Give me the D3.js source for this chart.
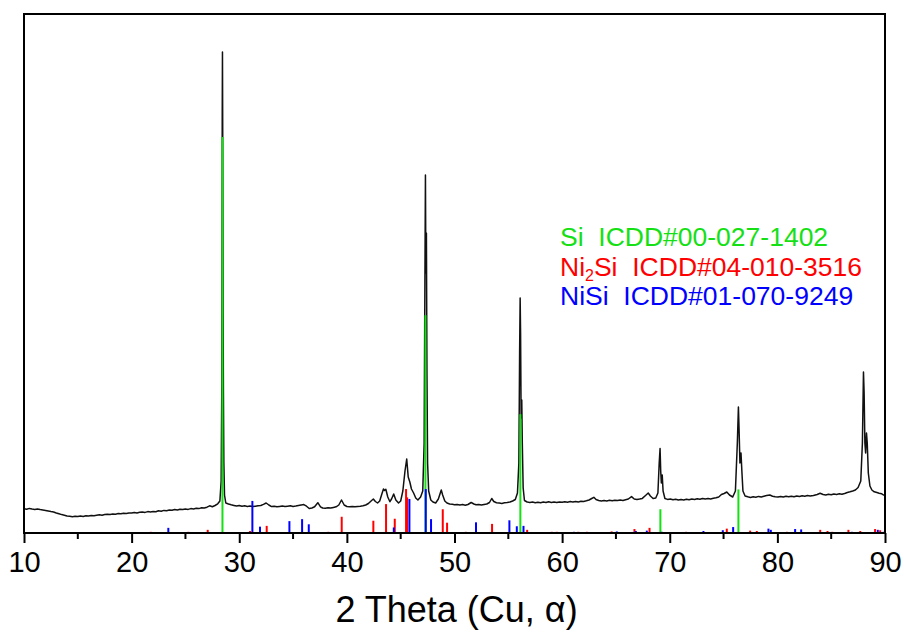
<!DOCTYPE html>
<html>
<head>
<meta charset="utf-8">
<script src="https://cdn.jsdelivr.net/npm/d3@7"></script>
<style>
  body { margin: 0; background: #fff; }
  svg text { font-family: Arial, "Liberation Sans", sans-serif; }
</style>
</head>
<body>
<svg id="chart" width="904" height="635"></svg>
<script>
// measured scan, [2theta, counts]
var scan = [
  [10.00,243],[10.25,238],[10.50,246],[10.75,240],[11.00,236],[11.25,241],[11.50,234],[11.75,230],
  [12.00,226],[12.25,221],[12.50,215],[12.75,210],[13.00,200],[13.25,192],[13.50,184],[13.75,178],
  [14.00,171],[14.25,168],[14.50,163],[14.75,167],[15.00,164],[15.25,170],[15.50,166],[15.75,172],
  [16.00,170],[16.25,176],[16.50,173],[16.75,178],[17.00,182],[17.25,177],[17.50,184],[17.75,188],
  [18.00,185],[18.25,191],[18.50,188],[18.75,194],[19.00,192],[19.25,198],[19.50,195],[19.75,201],
  [20.00,199],[20.25,205],[20.50,200],[20.75,207],[21.00,210],[21.25,206],[21.50,214],[21.75,211],
  [22.00,216],[22.25,213],[22.50,222],[22.75,218],[23.00,226],[23.25,223],[23.50,230],[23.75,227],
  [24.00,234],[24.25,231],[24.50,238],[24.75,235],[25.00,240],[25.25,236],[25.50,244],[25.75,241],
  [26.00,248],[26.25,244],[26.50,252],[26.75,250],[27.00,258],[27.25,272],[27.50,262],[27.75,275],
  [28.00,292],[28.20,320],[28.32,520],[28.38,1500],[28.42,4200],[28.44,4810],[28.47,3800],[28.50,2200],
  [28.53,1400],[28.57,700],[28.63,380],[28.75,300],[29.00,290],[29.25,282],[29.50,276],[29.75,270],
  [30.00,275],[30.25,268],[30.50,272],[30.75,266],[31.00,270],[31.25,264],[31.50,268],[31.75,272],
  [32.00,275],[32.25,286],[32.50,300],[32.75,280],[33.00,264],[33.25,268],[33.50,262],[33.75,266],
  [34.00,270],[34.25,264],[34.50,268],[34.75,272],[35.00,266],[35.25,270],[35.50,275],[35.75,280],
  [36.00,284],[36.25,268],[36.50,245],[36.75,250],[37.00,262],[37.30,303],[37.55,262],[37.75,250],
  [38.00,248],[38.25,252],[38.50,250],[38.75,256],[39.00,262],[39.25,280],[39.50,330],[39.75,280],
  [40.00,265],[40.25,262],[40.50,266],[40.75,262],[41.00,266],[41.25,268],[41.50,272],[41.75,280],
  [42.00,295],[42.25,320],[42.46,340],[42.65,315],[42.85,300],[43.05,320],[43.25,390],[43.40,440],
  [43.50,425],[43.62,437],[43.80,360],[44.00,313],[44.15,340],[44.35,390],[44.55,330],[44.80,300],
  [45.00,320],[45.20,420],[45.40,620],[45.56,740],[45.70,560],[45.85,510],[46.00,440],[46.20,400],
  [46.40,350],[46.60,330],[46.85,360],[47.05,420],[47.18,900],[47.25,2500],[47.30,3580],[47.34,2600],
  [47.39,3000],[47.44,1600],[47.50,700],[47.60,420],[47.80,330],[48.00,310],[48.25,300],[48.50,340],
  [48.65,390],[48.77,430],[48.90,380],[49.10,320],[49.30,300],[49.55,290],[49.80,287],[50.00,282],
  [50.25,286],[50.50,280],[50.75,284],[51.00,278],[51.25,285],[51.55,305],[51.80,290],[52.00,282],
  [52.25,285],[52.50,280],[52.75,286],[53.00,290],[53.25,305],[53.46,345],[53.65,315],[53.90,303],
  [54.15,300],[54.40,296],[54.65,302],[54.90,305],[55.15,310],[55.40,320],[55.65,335],[55.85,400],
  [55.98,700],[56.05,1800],[56.10,2350],[56.14,2000],[56.19,1150],[56.25,1330],[56.30,900],[56.38,450],
  [56.50,325],[56.75,310],[57.00,305],[57.25,309],[57.50,302],[57.75,307],[58.00,303],[58.25,309],
  [58.50,305],[58.75,312],[59.00,306],[59.25,310],[59.50,304],[59.75,311],[60.00,307],[60.25,313],
  [60.50,308],[60.75,314],[61.00,310],[61.25,316],[61.50,311],[61.75,317],[62.00,315],[62.25,322],
  [62.50,330],[62.75,345],[62.95,357],[63.15,335],[63.40,325],[63.65,320],[63.90,326],[64.15,321],
  [64.40,327],[64.65,322],[64.90,328],[65.15,324],[65.40,330],[65.65,326],[65.90,333],[66.15,340],
  [66.45,364],[66.70,340],[66.95,335],[67.20,340],[67.45,346],[67.75,375],[68.00,400],[68.20,370],
  [68.45,345],[68.70,350],[68.90,400],[69.02,700],[69.10,845],[69.16,620],[69.22,500],[69.30,580],
  [69.38,420],[69.55,345],[69.80,336],[70.05,340],[70.30,333],[70.55,338],[70.80,330],[71.05,336],
  [71.30,331],[71.55,338],[71.80,333],[72.05,340],[72.30,335],[72.55,342],[72.80,337],[73.05,344],
  [73.30,339],[73.55,345],[73.80,340],[74.05,347],[74.30,352],[74.55,360],[74.80,385],[75.05,395],
  [75.30,410],[75.55,380],[75.85,360],[76.10,420],[76.28,900],[76.38,1260],[76.45,1000],[76.52,700],
  [76.62,800],[76.70,620],[76.80,420],[77.00,370],[77.25,362],[77.50,356],[77.75,362],[78.00,358],
  [78.25,366],[78.50,360],[78.75,368],[79.00,375],[79.30,380],[79.55,368],[79.80,362],[80.05,360],
  [80.30,366],[80.55,360],[80.80,367],[81.05,362],[81.30,368],[81.55,363],[81.80,370],[82.05,365],
  [82.30,372],[82.55,367],[82.80,374],[83.05,369],[83.35,375],[83.70,385],[83.97,397],[84.25,385],
  [84.50,380],[84.75,387],[85.00,383],[85.25,390],[85.50,386],[85.75,392],[86.00,388],[86.25,395],
  [86.50,405],[86.75,412],[87.00,420],[87.25,430],[87.50,455],[87.75,520],[87.90,900],[88.00,1610],
  [88.06,1400],[88.13,900],[88.20,800],[88.28,1000],[88.35,900],[88.45,600],[88.60,470],[88.78,430],
  [89.00,412],[89.25,405],[89.45,398],[89.70,392],[89.85,380],[90.00,380]
];

// reference cards, [2theta, relative intensity %]
var siPeaks = [[28.44,100],[47.30,55],[56.12,30],[69.13,6],[76.38,11]];

var ni2siPeaks = [
  [21.78,0.3],[25.27,0.3],[27.07,0.8],[31.00,0.5],[32.55,1.8],[38.28,0.3],[39.52,4.1],[42.46,3.1],
  [43.64,7.3],[44.45,3.6],[45.50,11.1],[45.60,9.0],[48.91,6.0],[49.31,2.6],[51.05,0.3],[53.49,2.3],
  [56.75,0.8],[59.04,0.3],[59.50,0.3],[61.50,0.3],[62.30,0.3],[64.60,0.4],[66.72,1.0],[68.12,1.3],
  [71.52,0.3],[75.30,1.1],[77.47,0.6],[78.09,0.5],[80.88,0.3],[83.98,0.8],[84.66,0.5],[85.10,0.3],
  [86.60,0.8],[87.70,0.5],[89.08,1.0],[89.55,0.7]
];

var nisiPeaks = [
  [23.41,1.3],[31.22,8.1],[31.93,1.6],[34.66,3.0],[35.84,3.5],[36.46,2.2],[44.36,1.4],[45.81,8.6],
  [47.33,11.1],[47.82,3.5],[52.00,2.7],[55.10,3.2],[55.79,1.7],[56.41,1.8],[61.10,0.3],[65.08,0.4],
  [66.85,0.5],[67.87,0.6],[69.26,0.3],[73.13,0.5],[74.93,0.7],[75.89,1.5],[79.17,1.1],[79.39,0.8],
  [81.65,1.0],[82.21,0.9],[86.92,0.3],[89.33,0.8],[89.86,0.3]
];

var xTicks = [10, 20, 30, 40, 50, 60, 70, 80, 90];
var xMinorTicks = [15, 25, 35, 45, 55, 65, 75, 85];
var xLabel = "2 Theta (Cu, \u03b1)";

var legendItems = [
  {name: "Si", sub: "", card: "ICDD#00-027-1402", color: "#14e014"},
  {name: "Ni", sub: "2", tail: "Si", card: "ICDD#04-010-3516", color: "#ff0000"},
  {name: "NiSi", sub: "", card: "ICDD#01-070-9249", color: "#0000ff"}
];

var margin = {top: 14, right: 19, bottom: 102, left: 24};
var width = 904 - margin.left - margin.right;
var height = 635 - margin.top - margin.bottom;

var svg = d3.select("#chart");
var g = svg.append("g").attr("transform", "translate(" + margin.left + "," + margin.top + ")");

var x = d3.scaleLinear().domain([10, 90]).range([0, width]);
var y = d3.scaleLinear().domain([0, 5190]).range([height, 0]);
//sticks: 100% reaches about 3/4 of plot height
var yStick = d3.scaleLinear().domain([0, 100]).range([height, height - 396]);

var line = d3.line()
  .x(function(d){ return x(d[0]); })
  .y(function(d){ return y(d[1]); });

g.append("path")
  .datum(scan)
  .attr("fill", "none")
  .attr("stroke", "#111")
  .attr("stroke-width", 1.5)
  .attr("stroke-linejoin", "round")
  .attr("d", line);

var drawSticks = function(data, color) {
  g.append("g").selectAll("line")
    .data(data)
    .enter().append("line")
    .attr("x1", function(d){ return x(d[0]); })
    .attr("x2", function(d){ return x(d[0]); })
    .attr("y1", y(0))
    .attr("y2", function(d){ return Math.min(yStick(d[1]), y(0) - 1); })
    .attr("stroke", color)
    .attr("stroke-width", 2);
};
drawSticks(siPeaks, legendItems[0].color);
drawSticks(ni2siPeaks, legendItems[1].color);
drawSticks(nisiPeaks, legendItems[2].color);

// frame
g.append("rect")
  .attr("width", width)
  .attr("height", height)
  .attr("fill", "none")
  .attr("stroke", "#000")
  .attr("stroke-width", 2);

var xAxis = g.append("g")
  .attr("transform", "translate(0," + height + ")")
  .call(d3.axisBottom(x).tickValues(xTicks).tickSize(10).tickPadding(8).tickFormat(d3.format("d")));
xAxis.select(".domain").remove();
xAxis.selectAll(".tick line").attr("stroke", "#000").attr("stroke-width", 2);
xAxis.selectAll(".tick text")
  .attr("fill", "#000")
  .style("font-size", "29px");

g.append("g")
  .attr("transform", "translate(0," + height + ")")
  .selectAll("line")
  .data(xMinorTicks)
  .enter().append("line")
  .attr("x1", function(d){ return x(d); })
  .attr("x2", function(d){ return x(d); })
  .attr("y1", 0)
  .attr("y2", 6)
  .attr("stroke", "#000")
  .attr("stroke-width", 2);

g.append("text")
  .attr("x", width / 2 + 2)
  .attr("y", height + 89)
  .attr("text-anchor", "middle")
  .style("font-size", "36px")
  .attr("fill", "#000")
  .text(xLabel);

// legend
var legend = g.append("g").attr("transform", "translate(" + (560 - margin.left) + "," + (246 - margin.top) + ")");
legendItems.forEach(function(item, i) {
  var t = legend.append("text")
    .attr("x", 0)
    .attr("y", i * 29.5)
    .attr("fill", item.color)
    .style("font-size", "26.5px")
    .attr("xml:space", "preserve");
  t.append("tspan").text(item.name);
  if (item.sub) {
    t.append("tspan").attr("dy", 5).style("font-size", "16px").text(item.sub);
    t.append("tspan").attr("dy", -5).text(item.tail);
  }
  t.append("tspan").text("  " + item.card);
});
</script>
</body>
</html>
